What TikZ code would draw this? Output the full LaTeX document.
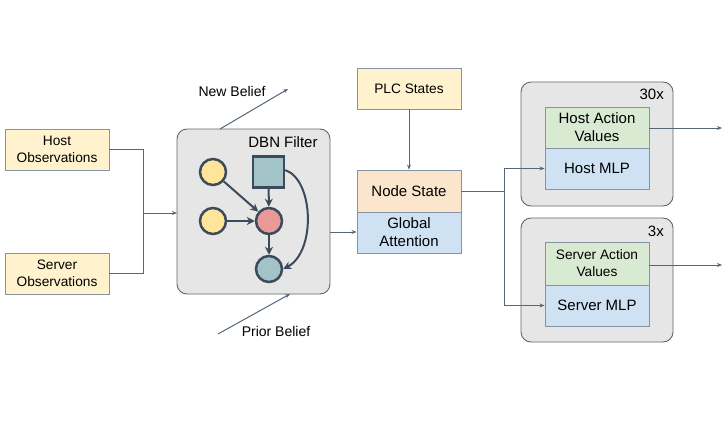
\documentclass[tikz,border=0pt]{standalone}
\usepackage{fontspec}
\setmainfont{Liberation Sans}
\usetikzlibrary{arrows.meta}
\definecolor{cyel}{HTML}{FFF2CC}
\definecolor{corg}{HTML}{FCE5CD}
\definecolor{cblu}{HTML}{CFE2F3}
\definecolor{cgrn}{HTML}{D9EAD3}
\definecolor{cgray}{HTML}{E6E6E6}
\definecolor{cbord}{HTML}{8593A3}
\definecolor{cline}{HTML}{56667A}
\definecolor{cdark}{HTML}{3C4A5C}
\definecolor{cdotY}{HTML}{FFE599}
\definecolor{cdotR}{HTML}{EA9999}
\definecolor{cdotT}{HTML}{A2C4C9}
\tikzset{
  box/.style={draw=cbord, line width=0.9pt, minimum width=104pt, minimum height=41pt, inner sep=0pt, align=center, font=\fontsize{15}{18}\selectfont},
  sbox/.style={box, font=\fontsize{13.7}{17}\selectfont},
  group/.style={draw=black!60, fill=cgray, line width=0.9pt, rounded corners=10pt},
  conn/.style={draw=cline, line width=1pt, -{Stealth[length=5pt,width=4pt]}},
  plain/.style={draw=cline, line width=1pt},
  dot/.style={circle, draw=cdark, line width=2.5pt, minimum size=26pt, inner sep=0pt},
  inarr/.style={draw=cdark, line width=2pt, -{Stealth[length=8pt,width=8pt]}},
  lbl/.style={font=\fontsize{14}{17}\selectfont, inner sep=0pt},
  glbl/.style={font=\fontsize{15}{18}\selectfont, inner sep=0pt}
}
\begin{document}
\begin{tikzpicture}[x=1pt,y=-1pt]
\useasboundingbox[fill=white] (0,0) rectangle (727,423);
% inputs
\node[sbox, fill=cyel] (hobs) at (57,149.5) {Host\\Observations};
\node[sbox, fill=cyel] (sobs) at (57,273.5) {Server\\Observations};
% DBN filter
\draw[group] (177,129) rectangle (330,294);
\coordinate (dbnW) at (177,213);
\coordinate (dbnE) at (330,232);
\coordinate (dbnT) at (220,129);
\coordinate (dbnB) at (290,294);
\node[glbl] (dbnlbl) at (283,142) {DBN Filter};
\node[dot, fill=cdotY] (y1) at (213,172) {};
\node[dot, fill=cdotY] (y2) at (213,221) {};
\node[draw=cdark, line width=2.5pt, fill=cdotT, minimum size=31pt, inner sep=0pt] (sq) at (268.5,172) {};
\node[dot, fill=cdotR] (pk) at (269,221) {};
\node[dot, fill=cdotT] (tl) at (269,269) {};
\draw[inarr] (y1) -- (pk);
\draw[inarr] (y2) -- (pk);
\draw[inarr] (sq) -- (pk);
\draw[inarr] (pk) -- (tl);
\draw[inarr] (sq.east) ++(0,-2) .. controls (314,180) and (316,252) .. (tl.east);
% input connectors
\coordinate (jn) at (143,213);
\draw[plain] (hobs.east) -| (jn);
\draw[plain] (sobs.east) -| (jn);
\draw[conn] (jn) -- (dbnW);
% beliefs
\coordinate (nb) at (288,89);
\coordinate (pb) at (218,334);
\draw[conn] (dbnT) -- (nb);
\draw[conn] (pb) -- (dbnB);
\node[lbl] (nblbl) at (232,91) {New Belief};
\node[lbl] (pblbl) at (276,331) {Prior Belief};
% PLC and node state
\node[sbox, fill=cyel] (plc) at (409,88.5) {PLC States};
\node[box, fill=corg, minimum height=42pt] (ns) at (409,191) {Node State};
\node[box, fill=cblu] (ga) at (409,232.5) {Global\\Attention};
\draw[conn] (plc) -- (ns);
\draw[conn] (dbnE) -- (dbnE -| ga.west);
% host group
\draw[group] (521,82) rectangle (673,206);
\node[glbl, anchor=east] (h30) at (664,94) {30x};
\node[box, fill=cgrn] (hav) at (597,127.5) {Host Action\\Values};
\node[box, fill=cblu] (hmlp) at (597,168.5) {Host MLP};
% server group
\draw[group] (521,218) rectangle (673,342);
\node[glbl, anchor=east] (s3) at (664,231) {3x};
\node[sbox, fill=cgrn, minimum height=43pt] (sav) at (597,263.5) {Server Action\\Values};
\node[box, fill=cblu] (smlp) at (597,305.5) {Server MLP};
% splitter
\coordinate (sp) at (504,191);
\draw[plain] (ns.east) -- (sp);
\draw[conn] (sp) |- (hmlp.west);
\draw[conn] (sp) |- (smlp.west);
% outputs
\coordinate (ho) at (722,128);
\coordinate (so) at (722,265);
\draw[conn] (hav.east |- ho) -- (ho);
\draw[conn] (sav.east |- so) -- (so);
\end{tikzpicture}
\end{document}
